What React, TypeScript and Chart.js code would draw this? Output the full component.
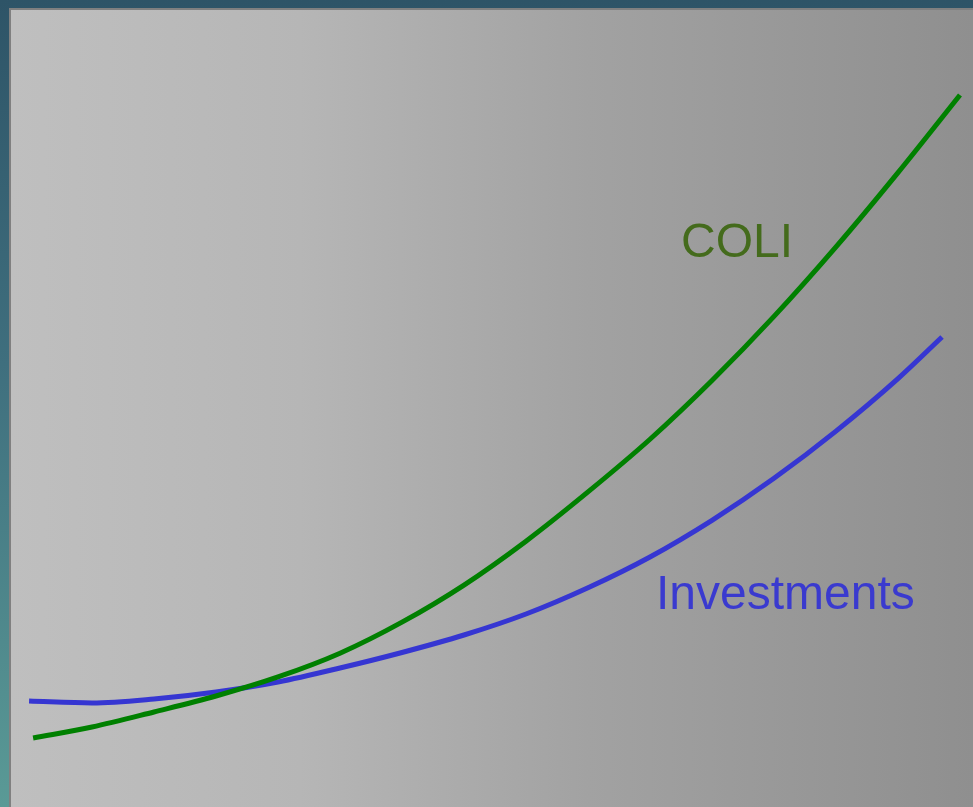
import React, { useEffect, useRef } from "react";
import { Chart, registerables } from "chart.js";

Chart.register(...registerables);

// Years (x) and relative values (y)
const coliYears = [0.1, 2, 4, 6, 8, 10, 12, 14, 16, 18, 20, 22, 24, 26, 28, 30];
const coliValues = [4.74, 6.37, 8.6, 10.96, 13.78, 17.3, 21.9, 27.4, 33.9, 41.2, 49.0, 57.7, 67.2, 77.5, 88.5, 100];

const investYears = [-0.03, 2, 4, 6, 8, 10, 12, 14, 16, 18, 20, 22, 24, 26, 28, 29.42];
const investValues = [10.22, 9.93, 10.52, 11.56, 13.04, 15.11, 17.41, 20.0, 23.11, 27.0, 31.56, 36.99, 43.21, 50.21, 57.99, 64.15];

const seriesNames = ["COLI", "Investments"];

export default function App() {
  const canvasRef = useRef<HTMLCanvasElement | null>(null);

  useEffect(() => {
    if (!canvasRef.current) return;
    const labelPlugin = {
      id: "seriesLabels",
      afterDraw(chart: any) {
        const ctx = chart.ctx;
        ctx.save();
        ctx.textBaseline = "alphabetic";
        ctx.textAlign = "left";
        ctx.font = '48px "Liberation Sans", Arial, sans-serif';
        ctx.fillStyle = "#446b1c";
        ctx.fillText(seriesNames[0], 681, 257);
        ctx.fillStyle = "#3a3acf";
        ctx.fillText(seriesNames[1], 656, 609);
        ctx.restore();
      },
    };
    const chart = new Chart(canvasRef.current, {
      type: "line",
      data: {
        datasets: [
          {
            label: seriesNames[0],
            data: coliYears.map((x, i) => ({ x, y: coliValues[i] })),
            borderColor: "#008000",
            borderWidth: 5,
            pointRadius: 0,
            cubicInterpolationMode: "monotone",
            fill: false,
            clip: false as any,
          },
          {
            label: seriesNames[1],
            data: investYears.map((x, i) => ({ x, y: investValues[i] })),
            borderColor: "#3636d2",
            borderWidth: 5,
            pointRadius: 0,
            cubicInterpolationMode: "monotone",
            fill: false,
            clip: false as any,
          },
        ],
      },
      options: {
        animation: false,
        responsive: false,
        maintainAspectRatio: false,
        layout: { padding: { left: 30, right: 13, top: 95, bottom: 37 } },
        plugins: { legend: { display: false }, tooltip: { enabled: false } },
        scales: {
          x: { type: "linear", min: 0, max: 30, display: false },
          y: { type: "linear", min: 0, max: 100, display: false },
        },
      },
      plugins: [labelPlugin],
    });
    return () => chart.destroy();
  }, []);

  return (
    <div
      style={{
        position: "fixed",
        left: 0,
        top: 0,
        width: 973,
        height: 807,
        background: "linear-gradient(to bottom, #2e5467 0%, #3f6f7e 45%, #5a9a96 100%)",
        overflow: "hidden",
      }}
    >
      <div
        style={{
          position: "absolute",
          left: 9,
          top: 8,
          right: 0,
          bottom: 0,
          borderLeft: "2px solid #808080",
          borderTop: "2px solid #808080",
          background: "linear-gradient(to right, #bfbfbf 0%, #b6b6b6 30%, #a2a2a2 60%, #8f8f8f 100%)",
        }}
      />
      <canvas
        ref={canvasRef}
        width={973}
        height={807}
        style={{ position: "absolute", left: 0, top: 0, width: 973, height: 807 }}
      />
    </div>
  );
}
